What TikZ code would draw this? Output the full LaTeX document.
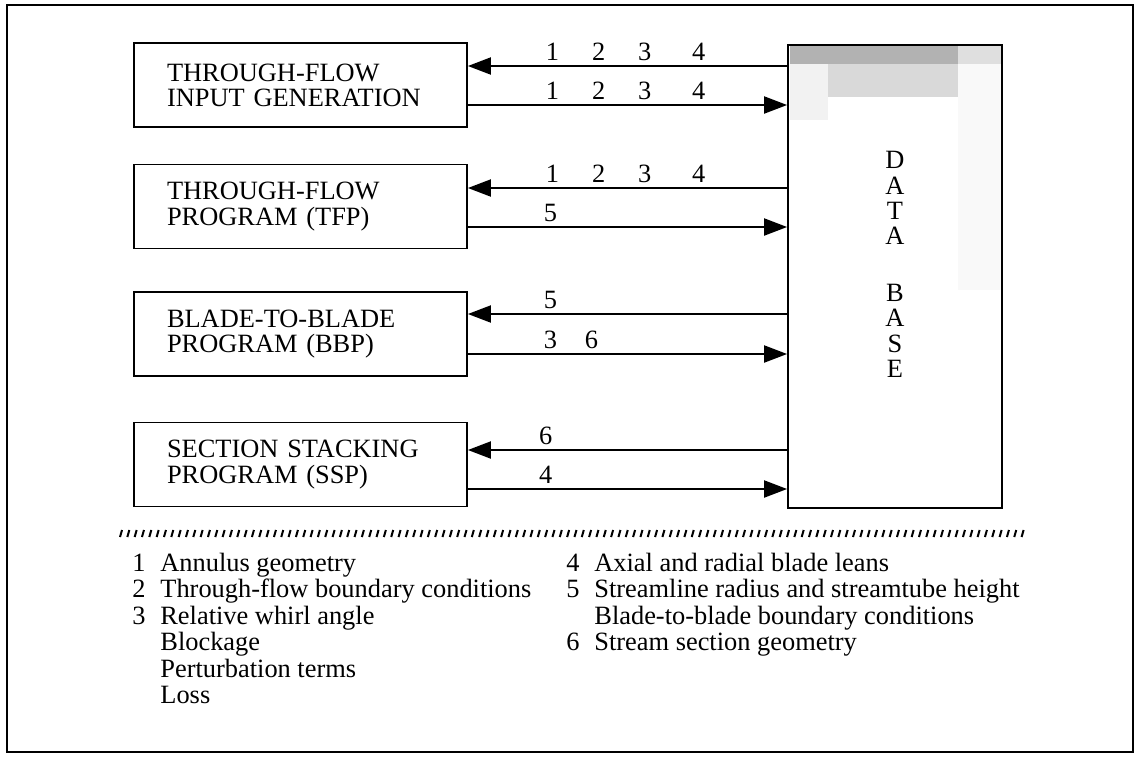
\documentclass[tikz,border=0pt]{standalone}
\usepackage{fontspec}
\setmainfont{Liberation Serif}
\usetikzlibrary{arrows.meta}
\newcommand{\numgap}{\hspace{16.5pt}}

\begin{document}
\begin{tikzpicture}[
  x=0.5pt,
  y=-0.5pt,
  every node/.style={font=\fontsize{13.2}{12.6}\selectfont},
  frame/.style={line width=1.2pt},
  program/.style={draw, line width=0.9pt, minimum width=166.5pt,
                  minimum height=42pt, text width=133.5pt,
                  inner xsep=16.5pt, align=left},
  store/.style={draw, line width=0.9pt, minimum width=107pt,
                minimum height=231.5pt, inner sep=0pt},
  storename/.style={align=center, inner sep=0pt,
                    font=\fontsize{13.2}{12.65}\selectfont},
  flow/.style={line width=1pt, -{Triangle[length=11.5pt, width=8.5pt]}},
  codes/.style={anchor=south west, inner xsep=0pt, inner ysep=2.2pt},
  rule/.style={line width=1pt},
  key/.style={anchor=base west, inner sep=0pt,
              font=\fontsize{13.2}{13.25}\selectfont}
]
  \useasboundingbox (0,0) rectangle (1136,757);

  % ---- page frame ------------------------------------------------------
  \draw[frame] (7,5) rectangle (1133,752);

  % ---- halftone at the top of the data base ----------------------------
  \fill[gray!60] (790,46) rectangle (958,64);
  \fill[gray!25] (958,46) rectangle (1001,64);
  \fill[gray!30] (828,64) rectangle (958,97);
  \fill[gray!10] (790,64) rectangle (828,120);
  \fill[gray!5] (958,64) rectangle (1001,290);

  % ---- the four programs and the data base -----------------------------
  \node[program] (ig) at (300.5,85)    {THROUGH-FLOW\\INPUT GENERATION};
  \node[program] (tf) at (300.5,206.5) {THROUGH-FLOW\\PROGRAM (TFP)};
  \node[program] (bb) at (300.5,334)   {BLADE-TO-BLADE\\PROGRAM (BBP)};
  \node[program] (ss) at (300.5,464.5) {SECTION STACKING\\PROGRAM (SSP)};

  \node[store] (db) at (895,276.5) {};
  \node[storename] (dbname) at ([yshift=6pt]db.center)
    {D\\A\\T\\A\\[15.85pt]B\\A\\S\\E};

  % ---- data flows, read from and written to the data base --------------
  \draw[flow] ([yshift=9.5pt]ig.east -| db.west) --
    node[codes, pos=0.759] {1\numgap 2\numgap 3\hspace{20.4pt}4}
    ([yshift=9.5pt]ig.east);
  \draw[flow] ([yshift=-10pt]ig.east) --
    node[codes, pos=0.241] {1\numgap 2\numgap 3\hspace{20.4pt}4}
    ([yshift=-10pt]ig.east -| db.west);

  \draw[flow] ([yshift=9.25pt]tf.east -| db.west) --
    node[codes, pos=0.759] {1\numgap 2\numgap 3\hspace{20.4pt}4}
    ([yshift=9.25pt]tf.east);
  \draw[flow] ([yshift=-10.25pt]tf.east) --
    node[codes, pos=0.235] {5}
    ([yshift=-10.25pt]tf.east -| db.west);

  \draw[flow] ([yshift=10pt]bb.east -| db.west) --
    node[codes, pos=0.765] {5}
    ([yshift=10pt]bb.east);
  \draw[flow] ([yshift=-10pt]bb.east) --
    node[codes, pos=0.235] {3\hspace{13.9pt}6}
    ([yshift=-10pt]bb.east -| db.west);

  \draw[flow] ([yshift=7.25pt]ss.east -| db.west) --
    node[codes, pos=0.78] {6}
    ([yshift=7.25pt]ss.east);
  \draw[flow] ([yshift=-12.25pt]ss.east) --
    node[codes, pos=0.22] {4}
    ([yshift=-12.25pt]ss.east -| db.west);

  % ---- separator -------------------------------------------------------
  \foreach \k in {0,...,123}
    \draw[rule] ({120+7.33*\k},537) -- ++(2,-7);

  % ---- key to the numbers ----------------------------------------------
  \node[key] (keyleft) at (132,571) {%
    \begin{tabular}[t]{@{}l@{\hspace{7.4pt}}l@{}}
      1 & Annulus geometry\\
      2 & Through-flow boundary conditions\\
      3 & Relative whirl angle\\
        & Blockage\\
        & Perturbation terms\\
        & Loss
    \end{tabular}};
  \node[key] (keyright) at (566,571) {%
    \begin{tabular}[t]{@{}l@{\hspace{7.4pt}}l@{}}
      4 & Axial and radial blade leans\\
      5 & Streamline radius and streamtube height\\
        & Blade-to-blade boundary conditions\\
      6 & Stream section geometry
    \end{tabular}};
\end{tikzpicture}
\end{document}
